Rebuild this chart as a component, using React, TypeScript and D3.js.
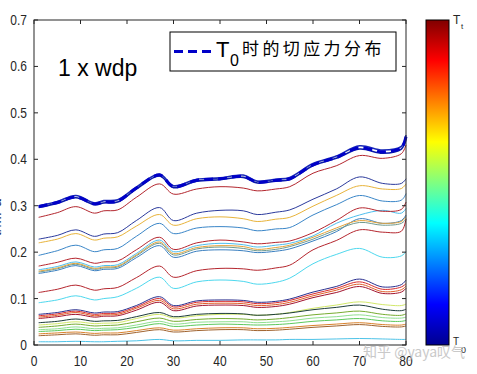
import React from 'react';
import * as d3 from 'd3';

// sample positions along the x axis
const xKnots = [1, 5, 9, 13, 15, 18, 22, 27, 30, 35, 40, 45, 48, 52, 55, 60, 65, 70, 75, 79, 80];

// shear stress distribution at T0 (dashed reference) and the two blue curves under it
const t0Shear = [0.298, 0.307, 0.319, 0.304, 0.308, 0.310, 0.338, 0.366, 0.341, 0.355, 0.358, 0.363, 0.351, 0.355, 0.358, 0.388, 0.404, 0.425, 0.416, 0.425, 0.449];
const blueA = [0.300, 0.309, 0.322, 0.306, 0.311, 0.313, 0.340, 0.368, 0.343, 0.357, 0.360, 0.366, 0.353, 0.357, 0.361, 0.391, 0.407, 0.429, 0.420, 0.428, 0.452];
const blueB = [0.296, 0.305, 0.317, 0.302, 0.306, 0.308, 0.336, 0.364, 0.339, 0.353, 0.356, 0.361, 0.349, 0.353, 0.356, 0.386, 0.402, 0.422, 0.413, 0.422, 0.446];

// curves for later times
const red1 = [0.275, 0.285, 0.298, 0.284, 0.289, 0.291, 0.318, 0.347, 0.325, 0.336, 0.341, 0.338, 0.332, 0.336, 0.341, 0.370, 0.386, 0.408, 0.402, 0.412, 0.431];
const navy1 = [0.228, 0.236, 0.248, 0.234, 0.239, 0.242, 0.268, 0.296, 0.268, 0.284, 0.290, 0.289, 0.281, 0.286, 0.291, 0.314, 0.336, 0.362, 0.348, 0.348, 0.358];
const gold1 = [0.220, 0.228, 0.240, 0.226, 0.230, 0.233, 0.256, 0.281, 0.258, 0.272, 0.276, 0.272, 0.266, 0.271, 0.275, 0.299, 0.322, 0.343, 0.336, 0.337, 0.347];
const steel1 = [0.193, 0.203, 0.215, 0.201, 0.205, 0.208, 0.234, 0.262, 0.240, 0.252, 0.255, 0.252, 0.246, 0.250, 0.253, 0.280, 0.302, 0.322, 0.310, 0.312, 0.326];
const red2 = [0.170, 0.178, 0.187, 0.176, 0.179, 0.181, 0.205, 0.232, 0.206, 0.220, 0.226, 0.222, 0.218, 0.221, 0.224, 0.242, 0.268, 0.295, 0.288, 0.292, 0.308];
const cyan1 = [0.162, 0.169, 0.179, 0.168, 0.171, 0.173, 0.197, 0.226, 0.201, 0.214, 0.219, 0.216, 0.211, 0.215, 0.219, 0.235, 0.262, 0.280, 0.290, 0.284, 0.294];
const orange1 = [0.159, 0.166, 0.176, 0.165, 0.168, 0.170, 0.194, 0.222, 0.197, 0.210, 0.214, 0.212, 0.206, 0.210, 0.215, 0.232, 0.252, 0.268, 0.262, 0.266, 0.276];
const teal1 = [0.157, 0.164, 0.174, 0.163, 0.166, 0.168, 0.192, 0.219, 0.194, 0.207, 0.211, 0.208, 0.203, 0.206, 0.212, 0.228, 0.248, 0.264, 0.258, 0.262, 0.271];
const steel2 = [0.154, 0.161, 0.171, 0.160, 0.163, 0.165, 0.188, 0.214, 0.189, 0.202, 0.205, 0.203, 0.199, 0.202, 0.207, 0.224, 0.244, 0.272, 0.262, 0.268, 0.280];
const red3 = [0.113, 0.120, 0.129, 0.118, 0.121, 0.124, 0.145, 0.170, 0.146, 0.160, 0.165, 0.164, 0.161, 0.166, 0.172, 0.205, 0.225, 0.248, 0.243, 0.245, 0.272];
const cyan2 = [0.091, 0.097, 0.106, 0.097, 0.100, 0.104, 0.122, 0.146, 0.122, 0.136, 0.140, 0.137, 0.131, 0.135, 0.144, 0.175, 0.195, 0.208, 0.189, 0.192, 0.201];
const navy2 = [0.066, 0.070, 0.076, 0.069, 0.071, 0.072, 0.085, 0.104, 0.085, 0.095, 0.097, 0.096, 0.092, 0.094, 0.099, 0.114, 0.126, 0.142, 0.125, 0.130, 0.140];
const red4 = [0.063, 0.067, 0.073, 0.066, 0.068, 0.069, 0.082, 0.100, 0.082, 0.092, 0.094, 0.093, 0.089, 0.091, 0.096, 0.110, 0.122, 0.136, 0.120, 0.125, 0.132];
const orange2 = [0.060, 0.064, 0.070, 0.063, 0.065, 0.066, 0.079, 0.096, 0.078, 0.088, 0.090, 0.089, 0.085, 0.087, 0.092, 0.106, 0.118, 0.131, 0.115, 0.119, 0.127];
const red5 = [0.057, 0.061, 0.066, 0.060, 0.062, 0.063, 0.075, 0.092, 0.074, 0.084, 0.086, 0.085, 0.081, 0.083, 0.088, 0.102, 0.113, 0.126, 0.111, 0.114, 0.122];
const dark1 = [0.048, 0.051, 0.056, 0.051, 0.052, 0.053, 0.061, 0.070, 0.061, 0.066, 0.068, 0.067, 0.064, 0.066, 0.069, 0.076, 0.081, 0.086, 0.077, 0.074, 0.077];
const yellow1 = [0.043, 0.046, 0.050, 0.046, 0.047, 0.048, 0.057, 0.066, 0.058, 0.063, 0.066, 0.066, 0.064, 0.066, 0.070, 0.079, 0.086, 0.093, 0.087, 0.085, 0.088];
const green1 = [0.038, 0.041, 0.045, 0.041, 0.042, 0.043, 0.050, 0.058, 0.051, 0.055, 0.057, 0.056, 0.054, 0.056, 0.059, 0.065, 0.069, 0.073, 0.066, 0.064, 0.067];
const green2 = [0.033, 0.035, 0.039, 0.035, 0.036, 0.037, 0.043, 0.051, 0.045, 0.049, 0.050, 0.050, 0.048, 0.050, 0.052, 0.058, 0.061, 0.065, 0.059, 0.058, 0.060];
const green3 = [0.029, 0.031, 0.034, 0.031, 0.032, 0.033, 0.038, 0.046, 0.040, 0.043, 0.045, 0.044, 0.043, 0.044, 0.046, 0.051, 0.054, 0.057, 0.052, 0.051, 0.053];
const brown1 = [0.024, 0.026, 0.028, 0.025, 0.026, 0.026, 0.031, 0.037, 0.032, 0.035, 0.037, 0.037, 0.035, 0.036, 0.038, 0.042, 0.045, 0.048, 0.044, 0.043, 0.045];
const brown2 = [0.020, 0.022, 0.024, 0.021, 0.022, 0.022, 0.027, 0.033, 0.028, 0.031, 0.033, 0.033, 0.031, 0.032, 0.034, 0.038, 0.041, 0.044, 0.040, 0.039, 0.041];
const cyan3 = [0.007, 0.007, 0.008, 0.007, 0.007, 0.008, 0.009, 0.012, 0.009, 0.010, 0.010, 0.011, 0.011, 0.011, 0.012, 0.012, 0.013, 0.014, 0.013, 0.012, 0.012];

const seriesList = [cyan3, brown2, brown1, green3, green2, green1, yellow1, dark1, red5, orange2, red4, navy2, cyan2, red3, steel2, teal1, orange1, cyan1, red2, steel1, gold1, navy1, red1, blueB, blueA];
const seriesColors = ['#4dc3e8', '#a0622d', '#d9822b', '#5cc95c', '#90e090', '#77ac30', '#d2e86a', '#1d3d3a', '#a2142f', '#e0602a', '#d92b2b', '#2a2f8f', '#4dd8ee', '#b5262e', '#3a7fc0', '#6f9a8f', '#e3a33a', '#4dbeee', '#b5262e', '#3a86c8', '#e8b33a', '#2b3a9c', '#b3262e', '#0a1aa8', '#1a2ab8'];

const xTicks = [0, 10, 20, 30, 40, 50, 60, 70, 80];
const yTicks = [0, 0.1, 0.2, 0.3, 0.4, 0.5, 0.6, 0.7];
const legendLabel = '时的切应力分布';
const panelLabel = '1 x wdp';
const jetStops = ['#00008f', '#0000ff', '#0080ff', '#00ffff', '#80ff80', '#ffff00', '#ff8000', '#ff0000', '#800000'];

const W = 477;
const H = 374;
const plot = { left: 34, right: 406, top: 20, bottom: 345 };
const bar = { left: 426, right: 449 };
const axisColor = '#262626';
const tickFont = 'Arial, "Liberation Sans", Helvetica, sans-serif';

export default function App() {
  const x = d3.scaleLinear().domain([0, 80]).range([plot.left, plot.right]);
  const y = d3.scaleLinear().domain([0, 0.7]).range([plot.bottom, plot.top]);

  const line = d3
    .line<number>()
    .x((_, i) => x(xKnots[i]))
    .y((d) => y(d))
    .curve(d3.curveCatmullRom.alpha(0.5));

  return (
    <svg width={W} height={H} style={{ position: 'absolute', left: 0, top: 0, background: '#fff' }}>
      <defs>
        <linearGradient id="jet" x1="0" y1="1" x2="0" y2="0">
          {jetStops.map((c, i) => (
            <stop key={i} offset={i / (jetStops.length - 1)} stopColor={c} />
          ))}
        </linearGradient>
      </defs>

      {/* curves */}
      <g fill="none">
        {seriesList.map((s, i) => (
          <path key={i} d={line(s) || ''} stroke={seriesColors[i]} strokeWidth={i >= seriesList.length - 2 ? 1.6 : 1} />
        ))}
        <path d={line(t0Shear) || ''} stroke="#0000c8" strokeWidth={3} strokeDasharray="9 5" />
      </g>

      {/* axes box with inward ticks */}
      <rect x={plot.left} y={plot.top} width={plot.right - plot.left} height={plot.bottom - plot.top} fill="none" stroke={axisColor} strokeWidth={1} />
      {xTicks.map((t) => (
        <g key={'xt' + t}>
          <line x1={x(t)} x2={x(t)} y1={plot.bottom} y2={plot.bottom - 4} stroke={axisColor} />
          <line x1={x(t)} x2={x(t)} y1={plot.top} y2={plot.top + 4} stroke={axisColor} />
          <text transform={`translate(${x(t)},366) scale(1,1.2)`} textAnchor="middle" fontSize={12} fontFamily={tickFont} fill={axisColor}>
            {t}
          </text>
        </g>
      ))}
      {yTicks.map((t) => (
        <g key={'yt' + t}>
          <line x1={plot.left} x2={plot.left + 4} y1={y(t)} y2={y(t)} stroke={axisColor} />
          <line x1={plot.right} x2={plot.right - 4} y1={y(t)} y2={y(t)} stroke={axisColor} />
          <text transform={`translate(27,${y(t) + 5}) scale(1,1.2)`} textAnchor="end" fontSize={12} fontFamily={tickFont} fill={axisColor}>
            {t}
          </text>
        </g>
      ))}

      {/* y label, mostly cut off at the left edge as in the source */}
      <text transform="translate(1,218) rotate(-90)" textAnchor="middle" fontSize={14} fontFamily={tickFont} fill="#1a2a5a">
        τ/MPa
      </text>

      {/* panel label */}
      <text x={58} y={76} fontSize={23} fontFamily={tickFont} fill="#000">
        {panelLabel}
      </text>

      {/* legend */}
      <rect x={170} y={32} width={226} height={39} fill="#fff" stroke="#000" strokeWidth={1} />
      <line x1={174} x2={215} y1={51.5} y2={51.5} stroke="#0000c8" strokeWidth={3} strokeDasharray="9 5" />
      <text x={216} y={57} fontSize={22} fontFamily={tickFont} fill="#000">T</text>
      <text x={230} y={66} fontSize={16} fontFamily={tickFont} fill="#000">0</text>
      <text x={242} y={55} fontSize={17} letterSpacing={3.4} fontFamily='"Noto Sans CJK SC", sans-serif' fill="#000">
        {legendLabel}
      </text>

      {/* colorbar */}
      <rect x={bar.left} y={plot.top} width={bar.right - bar.left} height={plot.bottom - plot.top} fill="url(#jet)" stroke="#000" strokeWidth={1} />
      <text x={453} y={24} fontSize={12} fontFamily={tickFont} fill={axisColor}>T</text>
      <text x={461} y={29} fontSize={8} fontFamily={tickFont} fill={axisColor}>t</text>
      <text x={453} y={345} fontSize={10} fontFamily={tickFont} fill={axisColor}>T</text>
      <text x={461} y={353} fontSize={9} fontFamily={tickFont} fill={axisColor}>0</text>

      {/* watermark */}
      <text x={363} y={357} fontSize={14} fontFamily='"Noto Sans CJK SC", sans-serif' fill="#c4c4c4" opacity={0.9}>
        知乎 @yaya叹气
      </text>
    </svg>
  );
}
